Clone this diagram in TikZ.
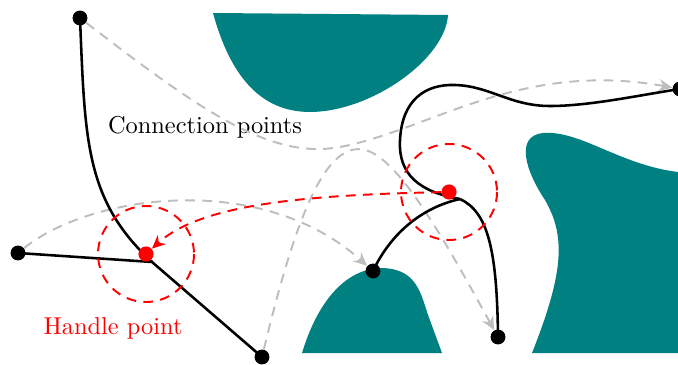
\documentclass[tikz,border=0pt]{standalone}
\usepackage{xcolor}
\usepackage{tikz}
\usetikzlibrary{arrows.meta}
\definecolor{blobteal}{RGB}{0,128,128}
\definecolor{guidegray}{RGB}{190,190,190}
\definecolor{handlered}{RGB}{255,0,0}

\begin{document}
\begin{tikzpicture}[
  x=0.41pt, y=-0.41pt,
  blob/.style={fill=blobteal, draw=none},
  dot/.style={circle, fill=black, inner sep=0pt, minimum size=6.1pt},
  hdot/.style={dot, fill=handlered, minimum size=6.2pt},
  wire/.style={line width=1.05pt, draw=black},
  guide/.style={-{Stealth[length=5.5pt, width=5pt]}, thick, dash pattern=on 4pt off 3pt, draw=guidegray},
  hring/.style={thick, dash pattern=on 4pt off 3pt, draw=handlered},
  harr/.style={-{Stealth[length=5.5pt, width=5pt]}, thick, dash pattern=on 4pt off 3pt, draw=handlered}
]
\useasboundingbox (0,0) rectangle (678,365);

% obstacles
\fill[blob] (213,13) -- (448,15) .. controls (445,60) and (370,112) .. (310,112)
  .. controls (260,112) and (230,75) .. (213,13) -- cycle;
\fill[blob] (678,172) .. controls (620,165) and (580,130) .. (543,133)
  .. controls (515,136) and (525,170) .. (545,200)
  .. controls (565,235) and (565,270) .. (532,353) -- (678,353) -- cycle;
\fill[blob] (302,353) .. controls (315,310) and (340,270) .. (380,268)
  .. controls (415,268) and (420,290) .. (428,315) -- (442,353) -- cycle;

% connection and handle points
\node[dot] (ta) at (80,18) {};
\node[dot] (lb) at (18,253) {};
\node[dot] (bc) at (262,357) {};
\node[dot] (md) at (373,271) {};
\node[dot] (be) at (498,337) {};
\node[dot] (rf) at (680,89) {};
\coordinate (j1) at (152,262);
\coordinate (j2) at (460,199);

\node (conn) at (205,127) {Connection points};
\node[text=handlered] (hlab) at (113,328) {Handle point};

% moves
\draw[guide] (ta) .. controls (200,110) and (270,160) .. (340,147)
  .. controls (430,130) and (520,60) .. (rf);
\draw[guide] (lb) .. controls (90,195) and (260,170) .. (md);
\draw[guide] (bc) .. controls (295,220) and (325,140) .. (365,150)
  .. controls (400,158) and (450,250) .. (be);

% wires
\draw[wire] (lb.center) -- (j1) -- (bc.center);
\draw[wire] (ta.center) .. controls (85,140) and (85,200) .. (j1);
\draw[wire] (md.center) .. controls (390,235) and (420,208) .. (j2);
\draw[wire] (j2) .. controls (488,212) and (497,250) .. (be.center);
\draw[wire] (j2) .. controls (420,192) and (398,175) .. (400,140)
  .. controls (402,100) and (425,84) .. (455,85)
  .. controls (490,86) and (510,106) .. (550,106)
  .. controls (590,106) and (640,95) .. (rf.center);

\node[hdot] (h1) at (146,254) {};
\node[hdot] (h2) at (449,192) {};
\draw[hring] (h1.center) circle[radius=48];
\draw[hring] (h2.center) circle[radius=48];
\draw[harr] (h2) .. controls (300,195) and (200,205) .. (h1);
\end{tikzpicture}
\end{document}
